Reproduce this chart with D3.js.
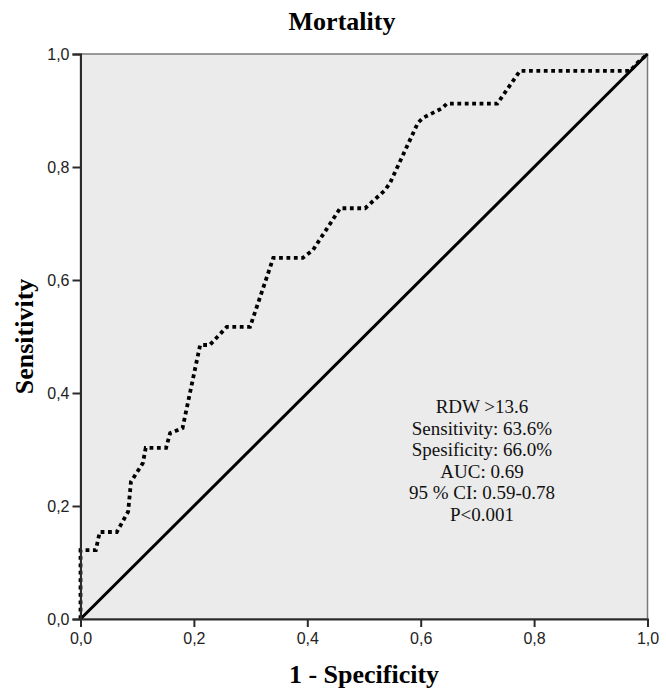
<!DOCTYPE html>
<html>
<head>
<meta charset="utf-8">
<script src="https://cdn.jsdelivr.net/npm/d3@7"></script>
<style>
  body { margin: 0; background: #fff; }
</style>
</head>
<body>
<svg id="svg"></svg>
<script>
// ROC curve: 1 - specificity and sensitivity
const fpr = [0, 0, 0.027, 0.034, 0.064, 0.073, 0.084, 0.089, 0.11, 0.115, 0.151, 0.158, 0.18,
             0.211, 0.228, 0.258, 0.299, 0.34, 0.392, 0.41, 0.458, 0.502, 0.537, 0.546,
             0.595, 0.604, 0.638, 0.646, 0.735, 0.775, 0.969, 0.983, 1];
const tpr = [0, 0.122, 0.122, 0.154, 0.154, 0.17, 0.19, 0.243, 0.276, 0.303, 0.303, 0.329, 0.338,
             0.485, 0.485, 0.517, 0.517, 0.639, 0.639, 0.653, 0.727, 0.727, 0.759, 0.772,
             0.878, 0.887, 0.904, 0.912, 0.912, 0.97, 0.97, 0.985, 1];
const refLine = [0, 1];
const tickValues = [0, 0.2, 0.4, 0.6, 0.8, 1.0];
const statLines = ["RDW >13.6", "Sensitivity: 63.6%", "Spesificity: 66.0%", "AUC: 0.69",
                   "95 % CI: 0.59-0.78", "P<0.001"];

let layout = {"width": 666,
              "height": 688,
              "marginTop": 54,
              "marginRight": 18.5,
              "marginBottom": 69,
              "marginLeft": 80.5};

let svg = d3.select("#svg")
            .attr("width", layout.width)
            .attr("height", layout.height);

let xScale = d3.scaleLinear()
               .domain([0, 1])
               .range([layout.marginLeft, layout.width - layout.marginRight]);

let yScale = d3.scaleLinear()
               .domain([0, 1])
               .range([layout.height - layout.marginBottom, layout.marginTop]);

const fmt = d => d3.format(".1f")(d).replace(".", ",");

// panel background + grey frame on top/right
svg.append("rect")
   .attr("x", xScale(0))
   .attr("y", yScale(1))
   .attr("width", xScale(1) - xScale(0))
   .attr("height", yScale(0) - yScale(1))
   .attr("fill", "#ebebeb")
   .attr("stroke", "#7a7a7a")
   .attr("stroke-width", 1.5);

// diagonal reference
svg.append("line")
   .attr("x1", xScale(refLine[0])).attr("y1", yScale(refLine[0]))
   .attr("x2", xScale(refLine[1])).attr("y2", yScale(refLine[1]))
   .attr("stroke", "#000")
   .attr("stroke-width", 3);

// ROC curve (dotted)
let rocData = fpr.map((x, i) => [x, tpr[i]]);
svg.append("path")
   .datum(rocData)
   .attr("fill", "none")
   .attr("stroke", "#000")
   .attr("stroke-width", 3.8)
   .attr("stroke-dasharray", "3.8,3.6")
   .attr("d", d3.line().x(d => xScale(d[0])).y(d => yScale(d[1])));

// axes
let xAxis = svg.append("g")
   .attr("transform", `translate(0, ${yScale(0)})`)
   .call(d3.axisBottom(xScale).tickValues(tickValues).tickFormat(fmt).tickSize(8).tickPadding(6));

let yAxis = svg.append("g")
   .attr("transform", `translate(${xScale(0)}, 0)`)
   .call(d3.axisLeft(yScale).tickValues(tickValues).tickFormat(fmt).tickSize(8).tickPadding(3));

[xAxis, yAxis].forEach(ax => {
  ax.select(".domain").attr("stroke", "#2a2a2a").attr("stroke-width", 2);
  ax.selectAll(".tick line").attr("stroke", "#2a2a2a").attr("stroke-width", 2);
  ax.selectAll(".tick text")
    .attr("fill", "#222")
    .attr("font-family", "'Liberation Sans', Arial, sans-serif")
    .attr("font-size", 16);
});

// titles
svg.append("text")
   .attr("x", 342)
   .attr("y", 30)
   .attr("text-anchor", "middle")
   .attr("font-family", "'Liberation Serif', 'Times New Roman', serif")
   .attr("font-weight", "bold")
   .attr("font-size", 26)
   .text("Mortality");

svg.append("text")
   .attr("x", (xScale(0) + xScale(1)) / 2)
   .attr("y", 683)
   .attr("text-anchor", "middle")
   .attr("font-family", "'Liberation Serif', 'Times New Roman', serif")
   .attr("font-weight", "bold")
   .attr("font-size", 26)
   .text("1 - Specificity");

svg.append("text")
   .attr("transform", `translate(33, ${(yScale(0) + yScale(1)) / 2}) rotate(-90)`)
   .attr("text-anchor", "middle")
   .attr("font-family", "'Liberation Serif', 'Times New Roman', serif")
   .attr("font-weight", "bold")
   .attr("font-size", 26)
   .text("Sensitivity");

// statistics block
svg.append("g")
   .selectAll("text")
   .data(statLines)
   .join("text")
   .attr("x", 482)
   .attr("y", (d, i) => 413 + i * 21.5)
   .attr("text-anchor", "middle")
   .attr("font-family", "'Liberation Serif', 'Times New Roman', serif")
   .attr("font-size", 19)
   .attr("fill", "#111")
   .text(d => d);
</script>
</body>
</html>
